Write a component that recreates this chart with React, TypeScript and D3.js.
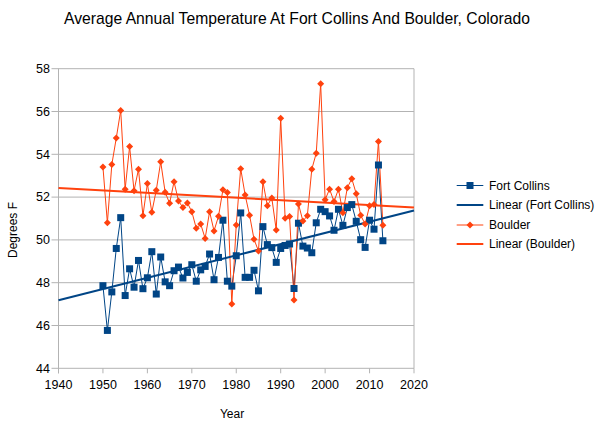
import React from "react";
import * as d3 from "d3";

const years = [
  1950, 1951, 1952, 1953, 1954, 1955, 1956, 1957, 1958, 1959,
  1960, 1961, 1962, 1963, 1964, 1965, 1966, 1967, 1968, 1969,
  1970, 1971, 1972, 1973, 1974, 1975, 1976, 1977, 1978, 1979,
  1980, 1981, 1982, 1983, 1984, 1985, 1986, 1987, 1988, 1989,
  1990, 1991, 1992, 1993, 1994, 1995, 1996, 1997, 1998, 1999,
  2000, 2001, 2002, 2003, 2004, 2005, 2006, 2007, 2008, 2009,
  2010, 2011, 2012, 2013,
];

const fortCollins = [
  47.86, 45.77, 47.57, 49.6, 51.04, 47.4, 48.65, 47.79, 49.04, 47.72,
  48.23, 49.45, 47.47, 49.2, 48.04, 47.86, 48.56, 48.73, 48.22, 48.48,
  48.84, 48.07, 48.6, 48.76, 49.34, 48.14, 49.18, 50.92, 48.07, 47.84,
  49.26, 51.26, 48.25, 48.25, 48.58, 47.62, 50.62, 49.78, 49.64, 48.95,
  49.6, 49.74, 49.81, 47.73, 50.78, 49.71, 49.62, 49.4, 50.8, 51.43,
  51.32, 51.12, 50.45, 51.43, 50.68, 51.51, 51.65, 50.87, 50.01, 49.65,
  50.92, 50.5, 53.5, 49.96,
];

const boulder = [
  53.41, 50.8, 53.52, 54.76, 56.05, 52.37, 54.36, 52.3, 53.3, 51.13,
  52.63, 51.29, 52.32, 53.65, 52.23, 51.71, 52.72, 51.82, 51.51, 51.73,
  51.32, 50.54, 50.74, 50.07, 51.32, 50.42, 51.1, 52.34, 52.22, 47.01,
  50.7, 53.33, 52.1, 51.15, 50.03, 49.48, 52.72, 51.6, 51.96, 50.46,
  55.69, 51.01, 51.09, 47.19, 51.68, 50.88, 51.13, 53.3, 54.05, 57.3,
  51.88, 52.37, 51.79, 52.37, 51.27, 52.44, 52.86, 52.16, 51.15, 50.74,
  51.59, 51.65, 54.6, 50.68,
];

const xTicks = [1940, 1950, 1960, 1970, 1980, 1990, 2000, 2010, 2020];
const yTicks = [44, 46, 48, 50, 52, 54, 56, 58];

const title = "Average Annual Temperature At Fort Collins And Boulder, Colorado";
const legendLabels = ["Fort Collins", "Linear (Fort Collins)", "Boulder", "Linear (Boulder)"];

const BLUE = "#004586";
const ORANGE = "#ff420e";
const GRID = "#b3b3b3";
const FONT = "'Liberation Sans', Arial, sans-serif";

function linreg(xs: number[], ys: number[]) {
  const mx = d3.mean(xs)!;
  const my = d3.mean(ys)!;
  let num = 0, den = 0;
  xs.forEach((x, i) => {
    num += (x - mx) * (ys[i] - my);
    den += (x - mx) * (x - mx);
  });
  const b = num / den;
  const a = my - b * mx;
  return (x: number) => a + b * x;
}

export default function App() {
  const W = 601, H = 426;
  const left = 58.5, right = 414, top = 68.7, bottom = 368.3;
  const x = d3.scaleLinear().domain([1940, 2020]).range([left, right]);
  const y = d3.scaleLinear().domain([44, 58]).range([bottom, top]);

  const line = d3.line<[number, number]>().x((d) => x(d[0])).y((d) => y(d[1]));
  const fcPts: [number, number][] = years.map((yr, i) => [yr, fortCollins[i]]);
  const bPts: [number, number][] = years.map((yr, i) => [yr, boulder[i]]);
  const fcFit = linreg(years, fortCollins);
  const bFit = linreg(years, boulder);
  const fcTrend: [number, number][] = [[1940, fcFit(1940)], [2020, fcFit(2020)]];
  const bTrend: [number, number][] = [[1940, bFit(1940)], [2020, bFit(2020)]];

  const diamond = (cx: number, cy: number, r: number) =>
    `M${cx},${cy - r}L${cx + r},${cy}L${cx},${cy + r}L${cx - r},${cy}Z`;

  const legX0 = 456.7, legX1 = 483.3, legText = 489;
  const legY = [185.5, 205, 225, 244];

  return (
    <svg width={W} height={H} style={{ position: "absolute", left: 0, top: 0, background: "#fff" }} fontFamily={FONT}>
      <rect x={0} y={0} width={W} height={H} fill="#fff" />
      <text x={297} y={24} textAnchor="middle" fontSize={15.7} fill="#000">{title}</text>

      {yTicks.map((t) => (
        <g key={"y" + t}>
          <line x1={left - 7} x2={right} y1={y(t)} y2={y(t)} stroke={GRID} strokeWidth={1} />
          <text x={left - 8.5} y={y(t)} dy="0.35em" textAnchor="end" fontSize={12.5} fill="#000">{t}</text>
        </g>
      ))}
      {xTicks.map((t) => (
        <g key={"x" + t}>
          <line x1={x(t)} x2={x(t)} y1={bottom} y2={bottom + 5} stroke={GRID} strokeWidth={1} />
          <text x={x(t)} y={389} textAnchor="middle" fontSize={12.5} fill="#000">{t}</text>
        </g>
      ))}
      <line x1={left} x2={left} y1={top} y2={bottom + 5} stroke={GRID} strokeWidth={1} />
      <line x1={right} x2={right} y1={top} y2={bottom} stroke={GRID} strokeWidth={1} />

      <text transform={`translate(17,230) rotate(-90)`} textAnchor="middle" fontSize={12} fill="#000">Degrees F</text>
      <text x={232} y={417.5} textAnchor="middle" fontSize={12} fill="#000">Year</text>

      <path d={line(fcPts)!} fill="none" stroke={BLUE} strokeWidth={1} />
      <path d={line(bPts)!} fill="none" stroke={ORANGE} strokeWidth={1} />
      <path d={line(fcTrend)!} fill="none" stroke={BLUE} strokeWidth={2} />
      <path d={line(bTrend)!} fill="none" stroke={ORANGE} strokeWidth={2} />
      {fcPts.map((p, i) => (
        <rect key={"fc" + i} x={x(p[0]) - 3.5} y={y(p[1]) - 3.5} width={7} height={7} fill={BLUE} />
      ))}
      {bPts.map((p, i) => (
        <path key={"b" + i} d={diamond(x(p[0]), y(p[1]), 3.5)} fill={ORANGE} />
      ))}

      <g fontSize={12} fill="#000">
        <line x1={legX0} x2={legX1} y1={legY[0]} y2={legY[0]} stroke={BLUE} strokeWidth={1} />
        <rect x={(legX0 + legX1) / 2 - 3.5} y={legY[0] - 3.5} width={7} height={7} fill={BLUE} />
        <line x1={legX0} x2={legX1} y1={legY[1]} y2={legY[1]} stroke={BLUE} strokeWidth={2} />
        <line x1={legX0} x2={legX1} y1={legY[2]} y2={legY[2]} stroke={ORANGE} strokeWidth={1} />
        <path d={diamond((legX0 + legX1) / 2, legY[2], 3.5)} fill={ORANGE} />
        <line x1={legX0} x2={legX1} y1={legY[3]} y2={legY[3]} stroke={ORANGE} strokeWidth={2} />
        {legendLabels.map((l, i) => (
          <text key={l} x={legText} y={legY[i]} dy="0.35em">{l}</text>
        ))}
      </g>
    </svg>
  );
}
